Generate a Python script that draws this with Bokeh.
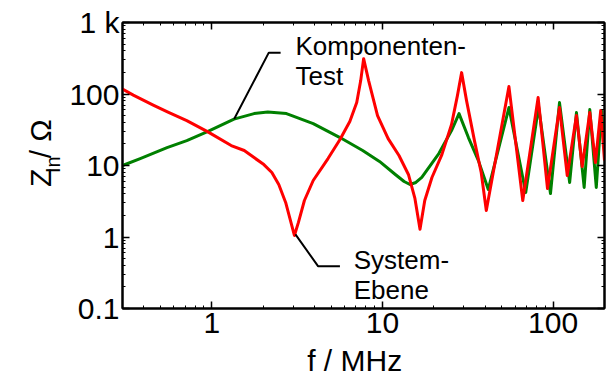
import math
from bokeh.plotting import figure
from bokeh.models import FixedTicker, LogAxis, Label
from bokeh.layouts import row
from bokeh.core.properties import value
from bokeh.embed import file_html
from bokeh.resources import INLINE

# ---- data ----
freq_red = [0.300, 0.347, 0.454, 0.554, 0.714, 0.944, 1.30, 1.55, 1.77, 2.02, 2.25, 2.47,
            2.71, 2.89, 3.05, 3.22, 3.49, 3.93, 4.80, 5.64, 6.44, 7.07, 7.46, 7.76, 8.30,
            9.36, 10.8, 12.5, 14.2, 15.5, 16.6, 17.7, 19.5, 22.3, 25.4, 27.5, 29.1, 31.1,
            34.6, 37.9, 40.6, 55.1, 66.4, 81.7, 92.7, 109, 121, 137, 148, 164, 177, 190, 200]
z_red = [117, 96.5, 70.0, 55.9, 42.5, 29.8, 19.0, 16.2, 12.9, 10.3, 7.98, 5.43,
         3.04, 1.71, 1.05, 1.60, 3.24, 6.17, 12.5, 23.1, 41.2, 75.8, 154, 312, 154,
         49.9, 23.8, 13.8, 7.49, 3.46, 1.28, 3.24, 6.80, 14.2, 37.4, 95.0, 199, 80.8,
         22.3, 7.98, 2.35, 127, 3.24, 89.1, 4.77, 64.6, 7.25, 49.9, 9.68, 55.0, 11.0, 58.6, 11.7]

freq_green = [0.300, 0.381, 0.547, 0.714, 0.944, 1.35, 1.77, 2.13, 2.74, 3.93, 5.64, 7.66,
              9.61, 11.9, 13.4, 14.5, 15.7, 17.0, 21.4, 25.4, 28.1, 31.9, 36.5, 41.7,
              55.1, 69.1, 82.2, 96.5, 109, 125, 137, 152, 164, 179, 192, 200]
z_green = [10.0, 12.5, 17.8, 22.3, 29.8, 44.6, 53.2, 55.9, 53.2, 38.6, 24.6, 16.2,
           11.4, 7.49, 5.98, 5.43, 5.79, 6.80, 14.7, 30.8, 53.2, 24.6, 11.7, 4.62,
           64.6, 4.20, 66.7, 4.06, 75.8, 5.79, 55.0, 4.93, 60.5, 4.93, 58.6, 16.2]

x_ticks = [1, 10, 100]
x_tick_labels = ["1", "10", "100"]
x_minor = [0.3, 0.4, 0.5, 0.6, 0.7, 0.8, 0.9, 2, 3, 4, 5, 6, 7, 8, 9,
           20, 30, 40, 50, 60, 70, 80, 90, 200]
y_ticks = [0.1, 1, 10, 100, 1000]
y_tick_labels = ["0.1", "1", "10", "100", "1 k"]
y_minor = [0.2, 0.3, 0.4, 0.5, 0.6, 0.7, 0.8, 0.9, 2, 3, 4, 5, 6, 7, 8, 9,
           20, 30, 40, 50, 60, 70, 80, 90, 200, 300, 400, 500, 600, 700, 800, 900]

x_title = "f / MHz"
x_title_at = 6.88          # frequency under which the axis title is centred

# annotation leader lines
komp_x = [1.353, 2.159, 2.532]
komp_y = [44.6, 378.6, 378.6]
sys_x = [3.093, 4.204, 5.636]
sys_y = [1.087, 0.3886, 0.3886]

FONT = "Liberation Sans"
LEFT_W = 66

p = figure(width=606 - LEFT_W, height=379, x_axis_type="log", y_axis_type="log",
           x_range=(0.3, 200), y_range=(0.1, 1000), title=None,
           output_backend="svg", toolbar_location=None,
           min_border_left=117 - LEFT_W, min_border_right=2, min_border_top=22,
           min_border_bottom=71)
p.grid.visible = False
p.outline_line_color = "black"
p.outline_line_width = 2
p.background_fill_color = "white"
p.border_fill_color = "white"


def style(ax, ticks, minor, labels, show):
    ax.ticker = FixedTicker(ticks=ticks, minor_ticks=minor)
    ax.axis_line_color = "black"
    ax.axis_line_width = 2
    ax.major_tick_in = 7
    ax.major_tick_out = 0
    ax.minor_tick_in = 3
    ax.minor_tick_out = 0
    ax.major_tick_line_color = "black"
    ax.minor_tick_line_color = "black"
    ax.major_tick_line_width = 1.5
    ax.minor_tick_line_width = 1
    ax.major_label_text_font = FONT
    ax.major_label_text_color = "black"
    if show:
        ax.major_label_overrides = {t: l for t, l in zip(ticks, labels)}
        ax.major_label_text_font_size = "30px"
        ax.major_label_standoff = 4
    else:
        ax.major_label_overrides = {t: "" for t in ticks}
        ax.major_label_text_font_size = "0px"
        ax.major_label_standoff = 0


style(p.xaxis[0], x_ticks, x_minor, x_tick_labels, True)
style(p.yaxis[0], y_ticks, y_minor, y_tick_labels, True)
p.yaxis[0].major_label_standoff = 3
top = LogAxis()
right = LogAxis()
style(top, x_ticks, x_minor, x_tick_labels, False)
style(right, y_ticks, y_minor, y_tick_labels, False)
p.add_layout(top, "above")
p.add_layout(right, "right")

# x-axis title as a second, tick-less axis below the first one
title_axis = LogAxis(ticker=FixedTicker(ticks=[x_title_at], minor_ticks=[]),
                     major_label_overrides={x_title_at: x_title})
title_axis.axis_line_color = None
title_axis.major_tick_line_color = None
title_axis.minor_tick_line_color = None
title_axis.major_tick_in = 0
title_axis.major_tick_out = 0
title_axis.minor_tick_in = 0
title_axis.minor_tick_out = 0
title_axis.major_label_text_font = FONT
title_axis.major_label_text_font_size = "30px"
title_axis.major_label_text_color = "black"
title_axis.major_label_standoff = 8
p.add_layout(title_axis, "below")

p.line(freq_green, z_green, line_color="#008000", line_width=3, line_join="round")
p.line(freq_red, z_red, line_color="#ff0000", line_width=3, line_join="round")
p.line(komp_x, komp_y, line_color="black", line_width=2)
p.line(sys_x, sys_y, line_color="black", line_width=2)


def lab(x, y, text, size):
    p.add_layout(Label(x=x, y=y, text=text, text_font=FONT, text_font_size=size,
                       text_color="black", text_align="left", text_baseline="alphabetic"))


lab(3.093, 474.1, "Komponenten-", "26px")
lab(3.093, 180.7, "Test", "26px")
lab(6.792, 0.4713, "System-", "26px")
lab(6.792, 0.1796, "Ebene", "26px")

# y-axis title (with subscript) in a narrow strip left of the plot
left = figure(width=LEFT_W, height=379, x_range=(0, LEFT_W), y_range=(0, 379), title=None,
              output_backend="svg", toolbar_location=None, min_border=0,
              x_axis_location=None, y_axis_location=None)
left.grid.visible = False
left.outline_line_color = None
left.background_fill_color = "white"
left.border_fill_color = "white"
for tx, ty, t, s in [(40, 161, "Z", "30px"), (52, 179.5, "In", "20px"), (40, 199, " / \u03a9", "30px")]:
    left.text(x=[tx], y=[ty], text=[t], angle=math.pi / 2, text_font=value(FONT),
              text_font_size=value(s), text_color="black", text_align="left",
              text_baseline="alphabetic")

layout = row(left, p, spacing=0)

open("out.html", "w").write(file_html(layout, INLINE))
